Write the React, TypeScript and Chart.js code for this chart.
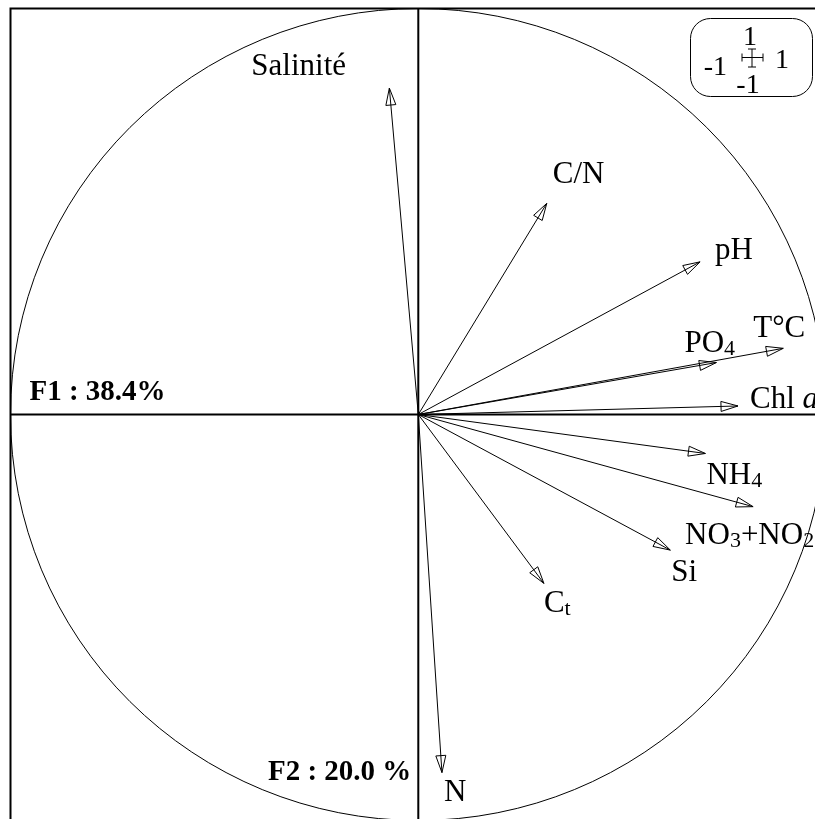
import React, { useEffect, useRef } from 'react';
import { Chart, registerables } from 'chart.js';

Chart.register(...registerables);

// ---- data ----
const variables = ['Salinité', 'C/N', 'pH', 'T°C', 'PO4', 'Chl a', 'NH4', 'NO3+NO2', 'Si', 'Ct', 'N'];
const f1Loadings = [-0.071, 0.315, 0.691, 0.895, 0.731, 0.784, 0.704, 0.821, 0.618, 0.308, 0.058];
const f2Loadings = [0.804, 0.52, 0.376, 0.163, 0.128, 0.021, -0.096, -0.227, -0.334, -0.416, -0.882];
const axisTitles = ['F1 : 38.4%', 'F2 : 20.0 %'];
const scaleTickLabels = ['1', '-1', '1', '-1']; // top, left, right, bottom
const axisMin = -1;
const axisMax = 1;

// ---- rich text for labels (content) ----
type Seg = { t: string; sub?: boolean; it?: boolean };
const labelText: Record<string, Seg[]> = {
  'Salinité': [{ t: 'Salinité' }],
  'C/N': [{ t: 'C/N' }],
  'pH': [{ t: 'pH' }],
  'T°C': [{ t: 'T°C' }],
  'PO4': [{ t: 'PO' }, { t: '4', sub: true }],
  'Chl a': [{ t: 'Chl ' }, { t: 'a', it: true }],
  'NH4': [{ t: 'NH' }, { t: '4', sub: true }],
  'NO3+NO2': [{ t: 'NO' }, { t: '3', sub: true }, { t: '+NO' }, { t: '2', sub: true }],
  'Si': [{ t: 'Si' }],
  'Ct': [{ t: 'C' }, { t: 't', sub: true }],
  'N': [{ t: 'N' }],
};

// ---- layout / style (pixel offsets of label baseline-left from arrow tip) ----
const labelOffsets: [number, number][] = [
  [-138, -13], [6, -20], [15, -3], [-30, -11], [-32, -11], [12, 2],
  [1, 31], [-68, 37], [1, 31], [0, 29], [2, 28],
];
const FONT = '"Liberation Serif", "Times New Roman", serif';
const CANVAS_W = 840;
const CANVAS_H = 840;
const AREA_LEFT = 10.5;
const AREA_TOP = 8.5;
const AREA_W = 815.6;
const AREA_H = 812;

const drawRich = (ctx: CanvasRenderingContext2D, segs: Seg[], x: number, y: number) => {
  let cx = x;
  for (const s of segs) {
    if (s.sub) {
      ctx.font = `22px ${FONT}`;
      ctx.fillText(s.t, cx, y + 3);
    } else if (s.it) {
      ctx.font = `italic 31px ${FONT}`;
      ctx.fillText(s.t, cx, y);
    } else {
      ctx.font = `31px ${FONT}`;
      ctx.fillText(s.t, cx, y);
    }
    cx += ctx.measureText(s.t).width;
  }
};

const pcaPlugin = {
  id: 'pcaDecor',
  beforeDatasetsDraw(chart: any) {
    const { ctx, chartArea: a, scales } = chart;
    const xs = scales.x;
    const ys = scales.y;
    const cx = xs.getPixelForValue(0);
    const cy = ys.getPixelForValue(0);
    const rx = xs.getPixelForValue(1) - cx;
    const ry = cy - ys.getPixelForValue(1);
    ctx.save();
    ctx.strokeStyle = '#000';
    // frame
    ctx.lineWidth = 2;
    ctx.strokeRect(a.left, a.top, a.right - a.left, a.bottom - a.top);
    // circle
    ctx.lineWidth = 1;
    ctx.beginPath();
    ctx.ellipse(cx, cy, rx, ry, 0, 0, Math.PI * 2);
    ctx.stroke();
    // axes
    ctx.lineWidth = 2;
    ctx.beginPath();
    ctx.moveTo(a.left, cy);
    ctx.lineTo(a.right, cy);
    ctx.moveTo(cx, a.top);
    ctx.lineTo(cx, a.bottom);
    ctx.stroke();
    ctx.restore();
  },
  afterDatasetsDraw(chart: any) {
    const { ctx, scales } = chart;
    const xs = scales.x;
    const ys = scales.y;
    const ox = xs.getPixelForValue(0);
    const oy = ys.getPixelForValue(0);
    ctx.save();
    ctx.strokeStyle = '#000';
    ctx.fillStyle = '#000';
    ctx.lineWidth = 1;
    variables.forEach((name, i) => {
      const tx = xs.getPixelForValue(f1Loadings[i]);
      const ty = ys.getPixelForValue(f2Loadings[i]);
      const ang = Math.atan2(ty - oy, tx - ox);
      const L = 17;
      const W = 5;
      const bx = tx - L * Math.cos(ang);
      const by = ty - L * Math.sin(ang);
      const px = -Math.sin(ang) * W;
      const py = Math.cos(ang) * W;
      ctx.beginPath();
      ctx.moveTo(tx, ty);
      ctx.lineTo(bx + px, by + py);
      ctx.lineTo(bx - px, by - py);
      ctx.closePath();
      ctx.stroke();
      // label
      ctx.textAlign = 'left';
      ctx.textBaseline = 'alphabetic';
      const [dx, dy] = labelOffsets[i];
      drawRich(ctx, labelText[name], tx + dx, ty + dy);
    });
    // axis titles
    ctx.font = `bold 29px ${FONT}`;
    ctx.textAlign = 'left';
    ctx.fillText(axisTitles[0], chart.chartArea.left + 19, oy - 15);
    ctx.textAlign = 'right';
    ctx.fillText(axisTitles[1], ox - 7, ys.getPixelForValue(-0.9));
    ctx.restore();
  },
  afterDraw(chart: any) {
    const { ctx } = chart;
    ctx.save();
    ctx.strokeStyle = '#000';
    ctx.fillStyle = '#000';
    ctx.lineWidth = 1;
    // scale indicator box
    ctx.beginPath();
    (ctx as any).roundRect(690.5, 18.5, 122, 78, 20);
    ctx.fillStyle = '#fff';
    ctx.fill();
    ctx.stroke();
    ctx.fillStyle = '#000';
    const ccx = 752;
    const ccy = 57.5;
    ctx.beginPath();
    ctx.moveTo(742, ccy);
    ctx.lineTo(763, ccy);
    ctx.moveTo(742, ccy - 4);
    ctx.lineTo(742, ccy + 4);
    ctx.moveTo(763, ccy - 4);
    ctx.lineTo(763, ccy + 4);
    ctx.moveTo(ccx, 49);
    ctx.lineTo(ccx, 67);
    ctx.moveTo(ccx - 4, 49);
    ctx.lineTo(ccx + 4, 49);
    ctx.moveTo(ccx - 4, 67);
    ctx.lineTo(ccx + 4, 67);
    ctx.stroke();
    ctx.font = `28px ${FONT}`;
    ctx.textBaseline = 'alphabetic';
    ctx.textAlign = 'center';
    ctx.fillText(scaleTickLabels[0], 750, 45);
    ctx.textAlign = 'right';
    ctx.fillText(scaleTickLabels[1], 727, 75);
    ctx.textAlign = 'left';
    ctx.fillText(scaleTickLabels[2], 775, 68);
    ctx.textAlign = 'center';
    ctx.fillText(scaleTickLabels[3], 748, 93);
    ctx.restore();
  },
};

export default function App() {
  const ref = useRef<HTMLCanvasElement | null>(null);
  useEffect(() => {
    if (!ref.current) return;
    const datasets = variables.map((name, i) => ({
      label: name,
      data: [
        { x: 0, y: 0 },
        { x: f1Loadings[i], y: f2Loadings[i] },
      ],
      showLine: true,
      borderColor: '#000',
      borderWidth: 1,
      pointRadius: 0,
      fill: false,
    }));
    const chart = new Chart(ref.current, {
      type: 'scatter',
      data: { datasets },
      options: {
        animation: false,
        responsive: false,
        devicePixelRatio: 1,
        layout: {
          padding: {
            left: AREA_LEFT,
            top: AREA_TOP,
            right: CANVAS_W - AREA_LEFT - AREA_W,
            bottom: CANVAS_H - AREA_TOP - AREA_H,
          },
        },
        plugins: { legend: { display: false }, tooltip: { enabled: false } },
        scales: {
          x: { type: 'linear', min: axisMin, max: axisMax, display: false },
          y: { type: 'linear', min: axisMin, max: axisMax, display: false },
        },
      },
      plugins: [pcaPlugin],
    });
    return () => chart.destroy();
  }, []);
  return (
    <div
      style={{
        position: 'fixed',
        left: 0,
        top: 0,
        width: 815,
        height: 819,
        overflow: 'hidden',
        background: '#fff',
      }}
    >
      <canvas
        ref={ref}
        width={CANVAS_W}
        height={CANVAS_H}
        style={{ position: 'absolute', left: 0, top: 0, width: CANVAS_W, height: CANVAS_H }}
      />
    </div>
  );
}
